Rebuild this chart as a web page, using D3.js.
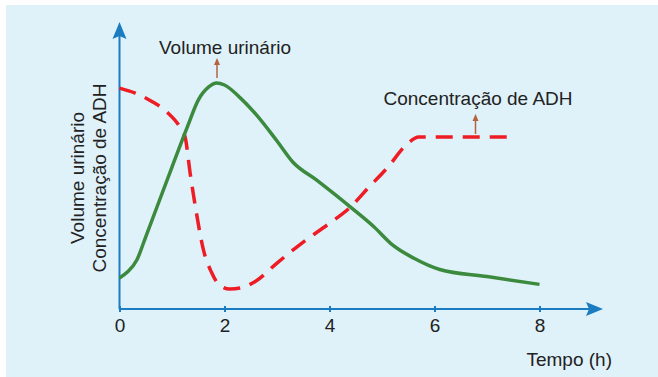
<!DOCTYPE html>
<html lang="pt">
<head>
<meta charset="utf-8">
<title>Volume urinário e ADH</title>
<script src="https://d3js.org/d3.v7.min.js"></script>
<style>
  body { margin: 0; background: #fff; }
  svg { display: block; font-family: "Liberation Sans", Arial, sans-serif; }
</style>
</head>
<body>
<svg width="658" height="377"></svg>
<script>
// time in hours, values on a relative 0-100 scale
const hours = [0, 2, 4, 6, 8];
const volumeX = [0, 0.15, 0.33, 0.5, 1.0, 1.3, 1.5, 1.7, 1.85, 2.0, 2.3, 2.6, 3.0, 3.3, 3.75, 4.4, 4.85, 5.2, 5.6, 6.1, 7.0, 8.0];
const volumeY = [11.1, 13.2, 17.5, 25.8, 50.7, 65.4, 74.6, 79.3, 80.7, 80, 75.4, 69.5, 60, 52.5, 46.1, 36.4, 29.3, 22.9, 18.2, 14.1, 11.6, 8.8];
const adhX = [0, 0.3, 0.6, 0.9, 1.15, 1.25, 1.35, 1.45, 1.6, 1.75, 1.9, 2.1, 2.3, 2.6, 3.0, 3.5, 4.0, 4.4, 4.7, 5.1, 5.5, 5.7, 7.5];
const adhY = [78.9, 77.1, 74.3, 70.4, 65, 61.4, 47.9, 36, 21, 13.2, 8.6, 7.1, 7.5, 10, 16.4, 23.9, 30.6, 36.4, 42.5, 50.4, 59.3, 61.4, 61.4];

const svg = d3.select("svg");
const blue = "#1a7cc1";

// panel
svg.append("rect").attr("x", 6).attr("y", 5).attr("width", 652).attr("height", 372).attr("fill", "#dff1f9");

const x = d3.scaleLinear().domain([0, 8]).range([119.5, 539.5]);
const y = d3.scaleLinear().domain([0, 100]).range([309, 29]);

// x axis
const xAxis = svg.append("g").attr("transform", `translate(0,${y(0)})`)
  .call(d3.axisBottom(x).tickValues(hours).tickSize(0).tickPadding(10));
xAxis.select(".domain").remove();
xAxis.selectAll("text").attr("font-size", 19).attr("fill", "#222").attr("font-family", "Liberation Sans, Arial, sans-serif");
xAxis.selectAll(".tick").append("line").attr("y1", -3).attr("y2", 3).attr("stroke", blue).attr("stroke-width", 2);

svg.append("line").attr("x1", x(0)).attr("x2", 590).attr("y1", y(0)).attr("y2", y(0))
  .attr("stroke", blue).attr("stroke-width", 2);
svg.append("path").attr("d", `M603,${y(0)} L586,${y(0) - 7} L589,${y(0)} L586,${y(0) + 7} Z`).attr("fill", blue);

svg.append("line").attr("x1", x(0)).attr("x2", x(0)).attr("y1", y(0)).attr("y2", 35)
  .attr("stroke", blue).attr("stroke-width", 2);
svg.append("path").attr("d", `M${x(0)},22 L${x(0) - 7},39 L${x(0)},36 L${x(0) + 7},39 Z`).attr("fill", blue);

// labels
svg.append("text").attr("x", 612).attr("y", 366).attr("text-anchor", "end")
  .attr("font-size", 19).attr("fill", "#222").text("Tempo (h)");
const yl = svg.append("g").attr("transform", "translate(0,178) rotate(-90)");
yl.append("text").attr("x", 0).attr("y", 84).attr("text-anchor", "middle")
  .attr("font-size", 19).attr("fill", "#222").text("Volume urinário");
yl.append("text").attr("x", 0).attr("y", 106).attr("text-anchor", "middle")
  .attr("font-size", 19).attr("fill", "#222").text("Concentração de ADH");

// lines
const line = d3.line().x(d => x(d[0])).y(d => y(d[1])).curve(d3.curveMonotoneX);
svg.append("path").datum(adhX.map((v, i) => [v, adhY[i]])).attr("d", line)
  .attr("fill", "none").attr("stroke", "#ee1c25").attr("stroke-width", 3.5)
  .attr("stroke-dasharray", "17 10");
svg.append("path").datum(volumeX.map((v, i) => [v, volumeY[i]])).attr("d", line)
  .attr("fill", "none").attr("stroke", "#3b8a3e").attr("stroke-width", 3.5);

// annotations
const brown = "#b5633b";
function arrow(ax, y1, y2) {
  svg.append("line").attr("x1", ax).attr("x2", ax).attr("y1", y1).attr("y2", y2 + 5)
    .attr("stroke", brown).attr("stroke-width", 1.5);
  svg.append("path").attr("d", `M${ax},${y2} L${ax - 3},${y2 + 7} L${ax + 3},${y2 + 7} Z`).attr("fill", brown);
}
svg.append("text").attr("x", 225).attr("y", 54).attr("text-anchor", "middle")
  .attr("font-size", 19).attr("fill", "#222").text("Volume urinário");
arrow(217, 78, 58);
svg.append("text").attr("x", 478).attr("y", 105).attr("text-anchor", "middle")
  .attr("font-size", 19).attr("fill", "#222").text("Concentração de ADH");
arrow(475.5, 134, 114);
</script>
</body>
</html>
